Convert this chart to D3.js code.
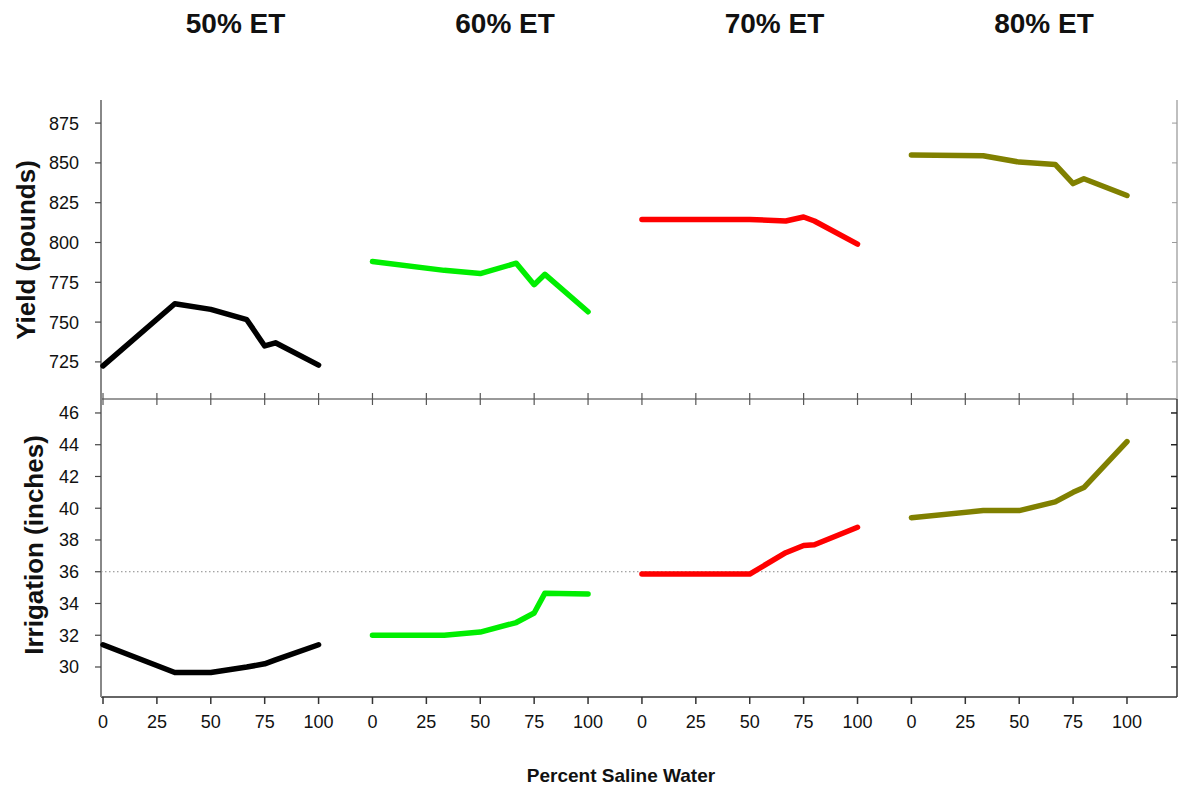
<!DOCTYPE html>
<html>
<head>
<meta charset="utf-8">
<script src="https://cdn.jsdelivr.net/npm/d3@7"></script>
<style>
  body { margin: 0; background: #fff; }
  svg text { font-family: "Liberation Sans", Arial, sans-serif; }
</style>
</head>
<body>
<div id="chart"></div>
<script>
// panels (one per ET level), x offset between groups on a shared axis
const groups = ["50% ET", "60% ET", "70% ET", "80% ET"];
const colors = ["#000000", "#00ee00", "#ff0000", "#808000"];
const salinePct = [0, 33.3, 50, 66.7, 75, 80, 100];
const xTicks = [0, 25, 50, 75, 100];

const yieldValues = [
    [722.5, 761.5, 758, 751.5, 735, 737, 723],
    [788, 782.5, 780.5, 787, 773.5, 780, 756.5],
    [814.5, 814.5, 814.5, 813.5, 816, 813.5, 799],
    [855, 854.5, 850.5, 849, 837, 840, 829.5]
];
const irrigationValues = [
    [31.4, 29.65, 29.65, 30.0, 30.2, 30.45, 31.4],
    [32.0, 32.0, 32.2, 32.8, 33.4, 34.65, 34.6],
    [35.85, 35.85, 35.85, 37.2, 37.65, 37.7, 38.8],
    [39.4, 39.85, 39.85, 40.4, 41.0, 41.3, 44.2]
];
const yieldTicks = [725, 750, 775, 800, 825, 850, 875];
const irrTicks = [30, 32, 34, 36, 38, 40, 42, 44, 46];
const refIrrigation = 36;

const width = 1179, height = 791;
const groupStep = 125;
const left = 101, right = 1177;
const topY = 100, midY = 399, bottomY = 697;

const svg = d3.select("#chart").append("svg")
    .attr("width", width)
    .attr("height", height);

const x = d3.scaleLinear().domain([-0.93, 498.2]).range([left, right]);
const yTop = d3.scaleLinear().domain([701.7, 889.5]).range([midY, topY]);
const yBot = d3.scaleLinear().domain([28.11, 46.88]).range([bottomY, midY]);

// all x ticks over the groups
const allXTicks = [];
groups.forEach((g, gi) => xTicks.forEach(t => allXTicks.push(gi * groupStep + t)));

// middle separator axis (ticks both ways)
const midAxis = svg.append("g").attr("transform", `translate(0,${midY})`);
midAxis.append("line").attr("x1", left).attr("x2", right)
    .attr("stroke", "#999").attr("stroke-width", 2);
midAxis.selectAll("line.tk").data(allXTicks).join("line")
    .attr("class", "tk")
    .attr("x1", d => x(d)).attr("x2", d => x(d))
    .attr("y1", -6).attr("y2", 6)
    .attr("stroke", "#555").attr("stroke-width", 1.2);

// bottom axis
const botAxis = svg.append("g").attr("transform", `translate(0,${bottomY})`);
botAxis.append("line").attr("x1", left).attr("x2", right)
    .attr("stroke", "#666").attr("stroke-width", 2);
botAxis.selectAll("line.tk").data(allXTicks).join("line")
    .attr("class", "tk")
    .attr("x1", d => x(d)).attr("x2", d => x(d))
    .attr("y1", 0).attr("y2", 7)
    .attr("stroke", "#333").attr("stroke-width", 1.5);
botAxis.selectAll("text").data(allXTicks).join("text")
    .attr("x", d => x(d)).attr("y", 31)
    .attr("text-anchor", "middle")
    .attr("font-size", 18)
    .attr("fill", "#111")
    .text(d => d % groupStep);

// left axes
svg.append("line").attr("x1", left).attr("x2", left)
    .attr("y1", topY).attr("y2", bottomY)
    .attr("stroke", "#888").attr("stroke-width", 2);
svg.append("g").selectAll("g").data(yieldTicks).join("g")
    .each(function(d) {
        const g = d3.select(this);
        g.append("line").attr("x1", left - 6).attr("x2", left)
            .attr("y1", yTop(d)).attr("y2", yTop(d))
            .attr("stroke", "#444").attr("stroke-width", 1.2);
        g.append("text").attr("x", 79).attr("y", yTop(d) + 6.5)
            .attr("text-anchor", "end").attr("font-size", 18).attr("fill", "#111")
            .text(d);
    });
svg.append("g").selectAll("g").data(irrTicks).join("g")
    .each(function(d) {
        const g = d3.select(this);
        g.append("line").attr("x1", left - 6).attr("x2", left)
            .attr("y1", yBot(d)).attr("y2", yBot(d))
            .attr("stroke", "#444").attr("stroke-width", 1.2);
        g.append("text").attr("x", 79).attr("y", yBot(d) + 6.5)
            .attr("text-anchor", "end").attr("font-size", 18).attr("fill", "#111")
            .text(d);
    });

// right axes (ticks inside)
svg.append("line").attr("x1", right).attr("x2", right)
    .attr("y1", topY).attr("y2", midY)
    .attr("stroke", "#aaa").attr("stroke-width", 1.5);
svg.append("line").attr("x1", right).attr("x2", right)
    .attr("y1", midY).attr("y2", bottomY)
    .attr("stroke", "#333").attr("stroke-width", 1.5);
svg.append("g").selectAll("line").data(yieldTicks).join("line")
    .attr("x1", right - 5).attr("x2", right)
    .attr("y1", d => yTop(d)).attr("y2", d => yTop(d))
    .attr("stroke", "#999");
svg.append("g").selectAll("line").data(irrTicks).join("line")
    .attr("x1", right - 6).attr("x2", right)
    .attr("y1", d => yBot(d)).attr("y2", d => yBot(d))
    .attr("stroke", "#222").attr("stroke-width", 1.5);

// reference dotted line
svg.append("line")
    .attr("x1", left).attr("x2", right)
    .attr("y1", yBot(refIrrigation)).attr("y2", yBot(refIrrigation))
    .attr("stroke", "#888").attr("stroke-width", 1)
    .attr("stroke-dasharray", "1.5,2.5");

// series lines
const lineTop = d3.line().x(d => x(d[0])).y(d => yTop(d[1]));
const lineBot = d3.line().x(d => x(d[0])).y(d => yBot(d[1]));

groups.forEach((g, gi) => {
    const off = gi * groupStep;
    svg.append("path")
        .datum(salinePct.map((p, i) => [off + p, yieldValues[gi][i]]))
        .attr("d", lineTop)
        .attr("fill", "none").attr("stroke", colors[gi])
        .attr("stroke-width", 5.5).attr("stroke-linecap", "round").attr("stroke-linejoin", "round");
    svg.append("path")
        .datum(salinePct.map((p, i) => [off + p, irrigationValues[gi][i]]))
        .attr("d", lineBot)
        .attr("fill", "none").attr("stroke", colors[gi])
        .attr("stroke-width", 5.5).attr("stroke-linecap", "round").attr("stroke-linejoin", "round");

    // group title
    svg.append("text")
        .attr("x", x(off + 61.5)).attr("y", 33)
        .attr("text-anchor", "middle")
        .attr("font-size", 28).attr("font-weight", "bold").attr("fill", "#111")
        .text(g);
});

// axis titles
svg.append("text")
    .attr("transform", `translate(35,250) rotate(-90)`)
    .attr("text-anchor", "middle")
    .attr("font-size", 26).attr("font-weight", "bold").attr("fill", "#111")
    .text("Yield (pounds)");
svg.append("text")
    .attr("transform", `translate(43,545) rotate(-90)`)
    .attr("text-anchor", "middle")
    .attr("font-size", 26).attr("font-weight", "bold").attr("fill", "#111")
    .text("Irrigation (inches)");
svg.append("text")
    .attr("x", 621).attr("y", 782)
    .attr("text-anchor", "middle")
    .attr("font-size", 19).attr("font-weight", "bold").attr("fill", "#111")
    .text("Percent Saline Water");
</script>
</body>
</html>
